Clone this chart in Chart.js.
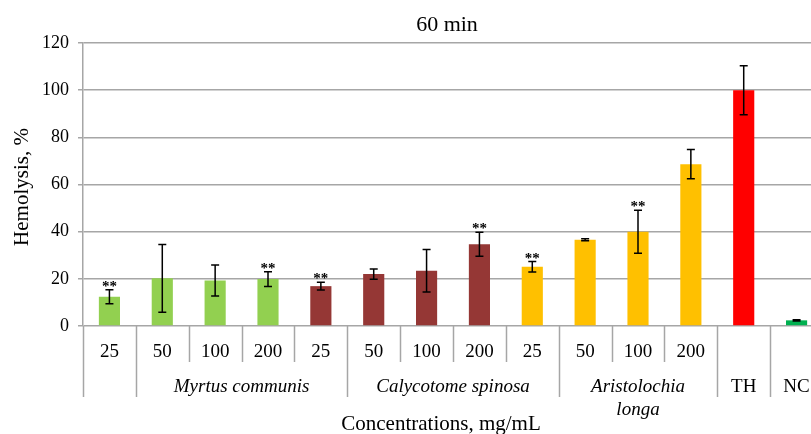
<!DOCTYPE html>
<html>
<head>
<meta charset="utf-8">
<script src="https://cdn.jsdelivr.net/npm/chart.js@4"></script>
<style>
  html, body { margin: 0; padding: 0; background: #fff; overflow: hidden; }
  #wrap { width: 823px; height: 434px; position: relative; }
</style>
</head>
<body>
<div id="wrap"><canvas id="canvas"></canvas></div>
<script>
// values
const concentrations = ['25', '50', '100', '200', '25', '50', '100', '200', '25', '50', '100', '200', '', ''];
const hemolysis = [12.4, 20.2, 19.3, 19.9, 16.9, 22.0, 23.4, 34.7, 25.1, 36.6, 40.0, 68.6, 100, 2.4];
const errors = [3.0, 14.4, 6.6, 3.1, 1.6, 2.2, 9.0, 5.1, 2.2, 0.4, 9.1, 6.2, 10.4, 0.3];
const significant = [true, false, false, true, true, false, false, true, true, false, true, false, false, false];
const groupLabels = ['', 'Myrtus communis', 'Calycotome spinosa', ['Aristolochia', 'longa'], 'TH', 'NC'];
const groupStarts = [0, 1, 5, 9, 12, 13, 14]; // last entry closes the last group
const yTicks = [0, 20, 40, 60, 80, 100, 120];

const green = '#92d050', brown = '#953735', yellow = '#ffc000';
const barColors = [green, green, green, green, brown, brown, brown, brown,
  yellow, yellow, yellow, yellow, '#ff0000', '#00b050'];
const groupItalic = [false, true, true, true, false, false];

const serif = '"Liberation Serif", "Times New Roman", serif';
const gridColor = '#a6a6a6';

// error bars, stars, the two-row category axis and the titles
const extras = {
  id: 'extras',
  afterDatasetsDraw(chart) {
    const ctx = chart.ctx, y = chart.scales.y;
    const meta = chart.getDatasetMeta(0);
    ctx.save();
    ctx.strokeStyle = '#000';
    ctx.fillStyle = '#000';
    ctx.lineWidth = 1.5;
    ctx.font = 'bold 15px ' + serif;
    ctx.textAlign = 'center';
    ctx.textBaseline = 'alphabetic';
    meta.data.forEach(function (bar, i) {
      const top = y.getPixelForValue(hemolysis[i] + errors[i]);
      const bot = y.getPixelForValue(hemolysis[i] - errors[i]);
      ctx.beginPath();
      ctx.moveTo(bar.x, top); ctx.lineTo(bar.x, bot);
      ctx.moveTo(bar.x - 4, top); ctx.lineTo(bar.x + 4, top);
      ctx.moveTo(bar.x - 4, bot); ctx.lineTo(bar.x + 4, bot);
      ctx.stroke();
      if (significant[i]) ctx.fillText('**', bar.x, top + 1);
    });
    ctx.restore();
  },
  afterDraw(chart) {
    const ctx = chart.ctx, x = chart.scales.x, y = chart.scales.y;
    const step = x.getPixelForValue(1) - x.getPixelForValue(0);
    const edge = function (k) { return x.getPixelForValue(0) - step / 2 + k * step; };
    const y0 = y.getPixelForValue(0);
    const row1 = y0 + 36, row2 = y0 + 71;
    ctx.save();
    ctx.strokeStyle = gridColor;
    ctx.lineWidth = 1.5;
    ctx.beginPath();
    for (let k = 0; k <= concentrations.length; k++) {
      const px = Math.round(edge(k)) + 0.5;
      const isGroupEdge = groupStarts.indexOf(k) >= 0;
      ctx.moveTo(px, y0);
      ctx.lineTo(px, isGroupEdge ? row2 : row1);
    }
    ctx.stroke();

    ctx.fillStyle = '#000';
    ctx.textAlign = 'center';
    ctx.textBaseline = 'alphabetic';
    ctx.font = '19px ' + serif;
    concentrations.forEach(function (c, i) {
      ctx.fillText(c, x.getPixelForValue(i), y0 + 31);
    });
    groupLabels.forEach(function (g, j) {
      const cx = (edge(groupStarts[j]) + edge(groupStarts[j + 1])) / 2;
      ctx.font = (groupItalic[j] ? 'italic ' : '') + '19px ' + serif;
      const lines = Array.isArray(g) ? g : [g];
      lines.forEach(function (line, n) {
        ctx.fillText(line, cx, y0 + 66 + n * 23);
      });
    });

    // titles
    ctx.font = '22px ' + serif;
    ctx.fillText('60 min', 447, 31);
    ctx.font = '21px ' + serif;
    ctx.fillText('Concentrations, mg/mL', 441, 430);
    ctx.translate(28, 187);
    ctx.rotate(-Math.PI / 2);
    ctx.fillText('Hemolysis, %', 0, 0);
    ctx.restore();
  }
};

const data = {
  labels: concentrations.map(function (c, i) { return i; }),
  datasets: [
    {
      label: 'Hemolysis',
      data: hemolysis,
      backgroundColor: barColors,
      borderWidth: 0,
      barPercentage: 0.4,
      categoryPercentage: 1.0,
    },
  ],
};

const config = {
  type: 'bar',
  data,
  options: {
    responsive: true,
    maintainAspectRatio: false,
    animation: false,
    layout: { padding: { top: 43, right: 0, bottom: 0, left: 0 } },
    plugins: {
      legend: { display: false },
      title: { display: false },
      tooltip: { enabled: false },
    },
    scales: {
      x: {
        ticks: { display: false },
        grid: { display: false },
        border: { display: false },
        afterFit: function (scale) { scale.height = 108; },
      },
      y: {
        min: 0,
        max: 120,
        afterBuildTicks: function (scale) {
          scale.ticks = yTicks.map(function (v) { return { value: v }; });
        },
        ticks: {
          color: '#000',
          padding: 9,
          font: { family: serif, size: 18 },
        },
        grid: { color: gridColor, lineWidth: 1.5, tickLength: 5 },
        border: { color: gridColor, width: 1.5 },
        afterFit: function (scale) { scale.width = 83; },
      },
    },
  },
  plugins: [extras],
};

let myChart = new Chart(document.getElementById('canvas'), config);
</script>
</body>
</html>
